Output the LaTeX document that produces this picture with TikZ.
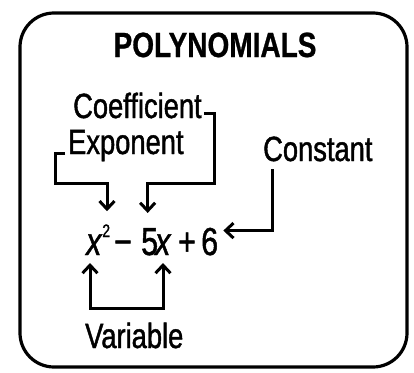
\documentclass[tikz,border=0pt]{standalone}
\usepackage{fontspec}
\setmainfont[FakeStretch=0.78,FakeBold=1.2]{Liberation Sans}
\newfontfamily\titlefont[FakeStretch=0.8,BoldFeatures={FakeBold=0.8}]{Liberation Sans}
\usetikzlibrary{arrows.meta}
\begin{document}
\begin{tikzpicture}[x=1pt,y=-1pt,
  lbl/.style={inner sep=0pt, anchor=base west, font=\fontsize{35}{37}\selectfont},
  eq/.style={inner sep=0pt, anchor=base west, font=\fontsize{39}{41}\selectfont},
  conn/.style={line width=3pt, -{Straight Barb[length=8pt,width=15pt]}},
  dconn/.style={line width=3pt, {Straight Barb[length=8pt,width=15pt]}-{Straight Barb[length=8pt,width=15pt]}}]
\useasboundingbox (0,0) rectangle (414,372);
\draw[line width=3.2pt, rounded corners=34pt] (20,13) rectangle (407,367);
\node[inner sep=0pt, anchor=base, font=\titlefont\bfseries\fontsize{35}{37}\selectfont] (title) at (215,57) {POLYNOMIALS};
\node[lbl] (coef) at (73,118) {Coefficient};
\node[lbl] (expo) at (68,154) {Exponent};
\node[lbl] (const) at (263,161) {Constant};
\node[lbl] (var) at (85,348) {Variable};
\node[eq] (xa) at (86,255) {\textit{x}\raisebox{18pt}{\fontsize{18}{18}\selectfont 2}};
\node[eq] (mn) at (114,255) {−};
\node[eq] (five) at (141,255) {5};
\node[eq] (xb) at (155,255) {\textit{x}};
\node[eq] (pl) at (178,255) {+};
\node[eq] (six) at (201,255) {6};
\coordinate (cR) at (214,183);
\coordinate (eL) at (55,183);
\coordinate (vbar) at (120,308);
\draw[conn] ([shift={(2,-5)}]coef.base east) -| (cR) -| ([shift={(-2,-15)}]five.north);
\draw[conn] ([shift={(-3,-1)}]expo.base west) -| (eL) -| ([shift={(21,-13)}]xa.north west);
\draw[conn] ([shift={(9,8)}]const.base west) |- ([shift={(5,-11)}]six.east);
\draw[dconn] ([shift={(4,8)}]xa.base west) |- (vbar) -| ([shift={(8,8)}]xb.base west);
\end{tikzpicture}
\end{document}
